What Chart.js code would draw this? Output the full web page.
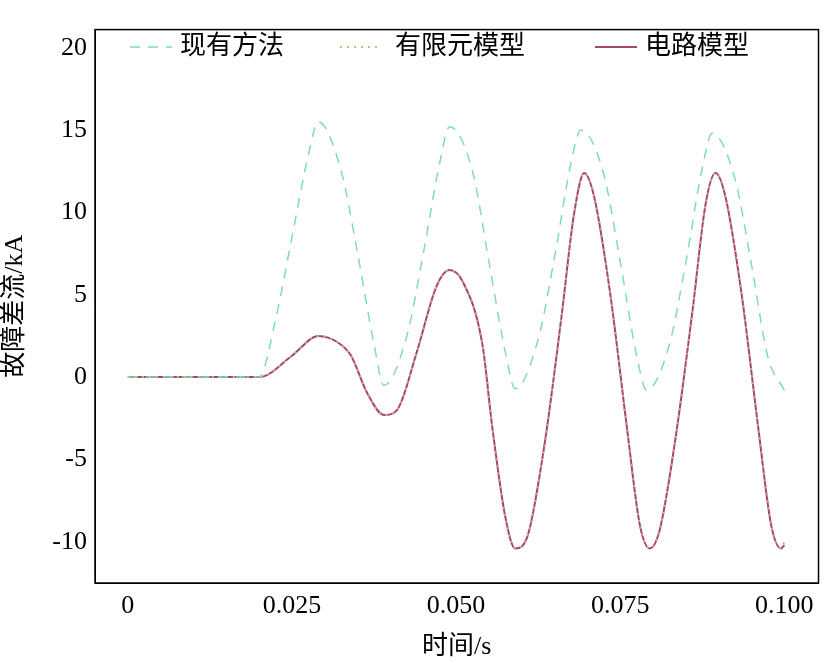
<!DOCTYPE html>
<html><head><meta charset="utf-8">
<script src="https://cdn.jsdelivr.net/npm/chart.js@4/dist/chart.umd.min.js"></script>
<style>body{margin:0;background:#fff}#wrap{width:828px;height:663px}</style>
</head><body><div id="wrap"><canvas id="c"></canvas></div>
<script>
// 现有方法
const xExist = [0,0.02,0.0225,0.025,0.0275,0.029,0.0325,0.035,0.0375,0.039,0.0425,0.045,0.0475,0.049,0.0525,0.055,0.0575,0.059,0.0625,0.065,0.0675,0.069,0.0725,0.075,0.0775,0.079,0.0825,0.085,0.0875,0.089,0.0925,0.095,0.0975,0.1];
const yExist = [0,0,3.5,8.5,13.5,15.5,12.5,7.5,2,-0.5,2.5,7.5,13,15.2,12.5,7,1.5,-0.7,2.3,7.3,13,15,12.3,7,1.3,-0.8,2,7,12.7,14.8,12,6.8,1.2,-0.8];
// 电路模型 / 有限元模型
const xCirc = [0,0.02,0.025,0.029,0.032,0.034,0.0365,0.039,0.041,0.044,0.047,0.049,0.051,0.054,0.0555,0.0575,0.059,0.061,0.0635,0.066,0.068,0.0695,0.071,0.0735,0.076,0.078,0.0795,0.081,0.0835,0.086,0.088,0.0895,0.091,0.0935,0.096,0.098,0.0995,0.1];
const yCirc = [0,0,1.3,2.5,2.1,1.3,-1,-2.3,-2,1.5,5.5,6.5,5.8,2,-3,-8.5,-10.4,-9.5,-4,3.5,10,12.4,11,5,-3,-9,-10.4,-9.3,-3.5,4,10.5,12.4,11,5,-3,-9,-10.4,-10.2];
const yFem = yCirc.slice(0,-1).concat([-10]);
const xTicks = [0,0.025,0.05,0.075,0.1];
const xTickLabels = ['0','0.025','0.050','0.075','0.100'];
const yTicks = [-10,-5,0,5,10,15,20];

const pts = (xs, ys) => xs.map((x, i) => ({x, y: ys[i]}));
const fam = '"Liberation Serif","Noto Sans CJK SC",serif';
const font = {family: fam, size: 26};

// frame + legend drawn across the top of the plot
const frame = {id:'frame', afterDraw(ch){
  const a=ch.chartArea,c=ch.ctx;
  c.save();c.strokeStyle='#000';c.lineWidth=1.5;
  c.strokeRect(a.left,a.top,a.right-a.left,a.bottom-a.top);
  const pos=[[130,180],[340,395],[595,645]];
  c.font='26px '+fam;c.textBaseline='middle';
  ch.data.datasets.forEach((d,i)=>{
    c.strokeStyle=d.borderColor;c.lineWidth=d.borderWidth;c.setLineDash(d.borderDash||[]);
    c.beginPath();c.moveTo(pos[i][0],47);c.lineTo(pos[i][0]+42,47);c.stroke();
    c.fillStyle='#000';c.fillText(d.label,pos[i][1],47);
  });
  c.restore();
}};

new Chart(document.getElementById('c'), {
  type: 'line',
  data: { datasets: [
    {label:'现有方法', data: pts(xExist,yExist), borderColor:'#7ee0a8', borderDash:[10,8], borderWidth:1.5},
    {label:'有限元模型', data: pts(xCirc,yFem), borderColor:'#d8b08a', borderDash:[2,5], borderWidth:2},
    {label:'电路模型', data: pts(xCirc,yCirc), borderColor:'#a2476f', borderWidth:2}
  ]},
  options: {
    animation:false, responsive:true, maintainAspectRatio:false,
    layout:{padding:{right:8,top:18,left:0}},
    elements:{point:{radius:0}, line:{tension:0.4, cubicInterpolationMode:'monotone'}},
    scales: {
      x: {type:'linear', min:-0.005, max:0.1052, grid:{display:false, tickLength:-6}, border:{color:'#000'},
        afterBuildTicks: s => { s.ticks = xTicks.map(v => ({value:v})); },
        afterFit: s => { s.height = 80; },
        ticks:{color:'#000', font, padding:14, callback:(v)=>xTickLabels[xTicks.indexOf(v)] ?? ''},
        title:{display:true, text:'时间/s', color:'#000', font, padding:0}},
      y: {min:-12.5, max:21.1, grid:{display:false, tickLength:-6}, border:{color:'#000'},
        afterBuildTicks: s => { s.ticks = yTicks.map(v=>({value:v})); },
        afterFit: s => { s.width = 95; },
        ticks:{color:'#000', font, padding:14},
        title:{display:true, text:'故障差流/kA', color:'#000', font, padding:0}}
    },
    plugins: { legend:{display:false}, tooltip:{enabled:false} }
  },
  plugins:[frame]
});
</script></body></html>
